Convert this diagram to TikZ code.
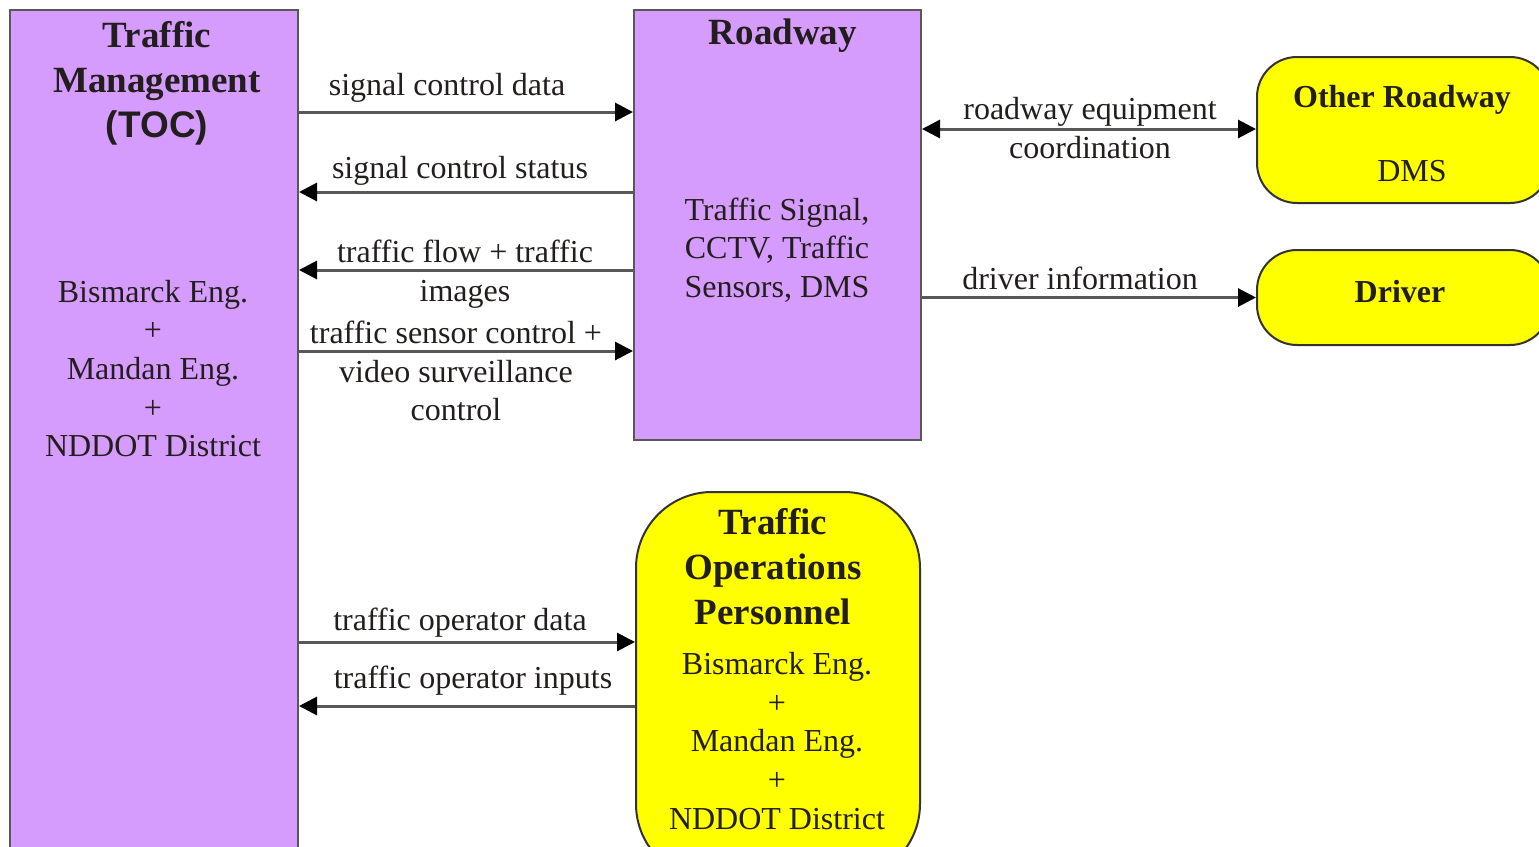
\documentclass[tikz,border=0pt]{standalone}
\usepackage{fontspec}
\setmainfont{Liberation Serif}
\newfontfamily\arialfont{Liberation Sans}
\usetikzlibrary{arrows.meta,positioning}

\definecolor{tocpurple}{RGB}{213,156,253}
\definecolor{termyellow}{RGB}{255,255,0}
\definecolor{flowgray}{RGB}{88,88,88}
\definecolor{inkdark}{RGB}{35,30,30}

\tikzset{
  subsys/.style={draw=flowgray, line width=1pt, fill=tocpurple, inner sep=0pt},
  terminator/.style={draw=black!80, line width=1pt, fill=termyellow, inner sep=0pt},
  title/.style={font=\fontsize{18.5}{22.5}\selectfont\bfseries, align=center, text=inkdark, inner sep=0pt},
  smalltitle/.style={font=\fontsize{16}{19.3}\selectfont\bfseries, align=center, text=inkdark, inner sep=0pt},
  body/.style={font=\fontsize{16}{19.3}\selectfont, align=center, text=inkdark, inner sep=0pt},
  flow/.style={draw=flowgray, line width=1.5pt, -{Triangle[length=9pt,width=9pt,color=black]}},
  flowboth/.style={draw=flowgray, line width=1.5pt,
    {Triangle[length=9pt,width=9pt,color=black]}-{Triangle[length=9pt,width=9pt,color=black]}},
}

\begin{document}
\begin{tikzpicture}[x=0.5pt,y=-0.5pt]
  \useasboundingbox (0,0) rectangle (1539,847);
  \fill[white] (0,0) rectangle (1539,847);
  \clip (0,0) rectangle (1539,847);

  % subsystems
  \node[subsys, minimum width=144pt, minimum height=430pt] (tm) at (154,440) {};
  \node[subsys, minimum width=143.5pt, minimum height=215pt] (rw) at (777.5,225) {};

  % terminators
  \node[terminator, rounded corners=20pt, minimum width=146.5pt, minimum height=73pt] (orw) at (1403.5,130) {};
  \node[terminator, rounded corners=20pt, minimum width=146.5pt, minimum height=47.5pt] (drv) at (1403.5,297.5) {};
  \node[terminator, rounded corners=38pt, minimum width=142pt, minimum height=194pt] (top) at (778,686) {};

  % box texts
  \node[title] (tmtitle) at (157,83.5) {Traffic\\Management\\{\arialfont (TOC)}};
  \node[body] (tmbody) at (153,368.5) {Bismarck Eng.\\+\\Mandan Eng.\\+\\NDDOT District};
  \node[title] (rwtitle) at (783,36) {Roadway};
  \node[body] (rwbody) at (777,250) {Traffic Signal,\\CCTV, Traffic\\Sensors, DMS};
  \node[smalltitle] (orwtitle) at (1402,100) {Other Roadway};
  \node[body] (orwbody) at (1412,171) {DMS};
  \node[smalltitle] (drvtitle) at (1400,292) {Driver};
  \node[title] (toptitle) at (773,567) {Traffic\\Operations\\Personnel};
  \node[body] (topbody) at (777,741) {Bismarck Eng.\\+\\Mandan Eng.\\+\\NDDOT District};

  % flows TOC <-> roadway
  \draw[flow] (tm.east |- 0,112) -- (rw.west |- 0,112);
  \node[body] (scdata) at (447,88) {signal control data};
  \draw[flow] (rw.west |- 0,192) -- (tm.east |- 0,192);
  \node[body] (scstatus) at (460,171) {signal control status};
  \draw[flow] (rw.west |- 0,270) -- (tm.east |- 0,270);
  \node[body] (tfimages) at (465,274) {traffic flow + traffic\\images};
  \draw[flow] (tm.east |- 0,351) -- (rw.west |- 0,351);
  \node[body] (tscontrol) at (456,371) {traffic sensor control +\\video surveillance\\control};

  % flows roadway <-> terminators
  \draw[flowboth] (rw.east |- 0,129) -- (orw.west |- 0,129);
  \node[body] (rwcoord) at (1090,128) {roadway equipment\\coordination};
  \draw[flow] (rw.east |- drv.west) -- (drv.west);
  \node[body] (drvinfo) at (1080,278) {driver information};

  % flows TOC <-> personnel
  \draw[flow] (tm.east |- 0,642) -- (top.west |- 0,642);
  \node[body] (opdata) at (460,623) {traffic operator data};
  \draw[flow] (top.west |- 0,706) -- (tm.east |- 0,706);
  \node[body] (opinputs) at (473,681) {traffic operator inputs};
\end{tikzpicture}
\end{document}
